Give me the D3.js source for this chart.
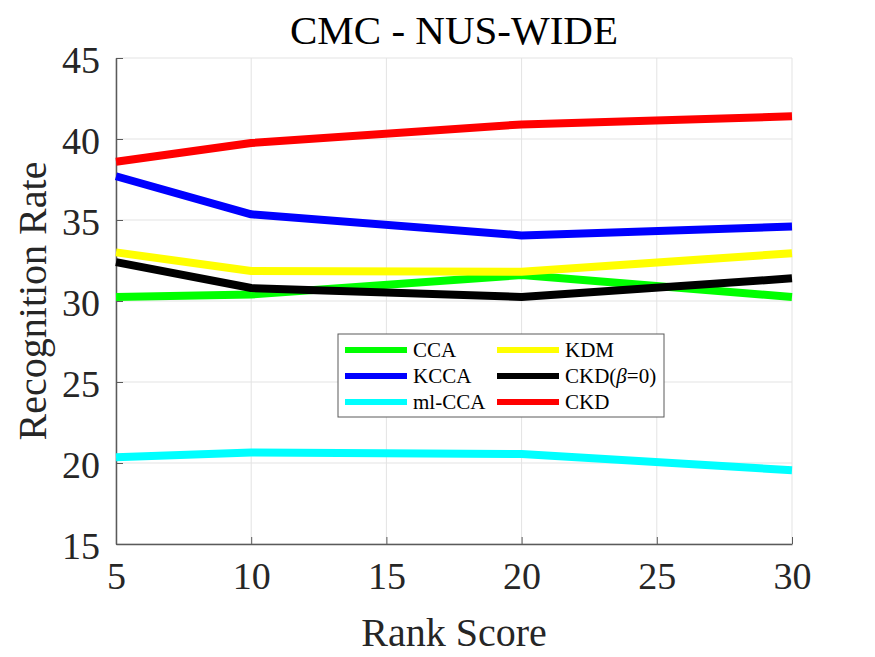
<!DOCTYPE html>
<html>
<head>
<meta charset="utf-8">
<script src="https://cdnjs.cloudflare.com/ajax/libs/d3/7.8.5/d3.min.js"></script>
<style>
  body { margin: 0; background: #fff; }
  svg text { font-family: "Liberation Serif", "Times New Roman", serif; fill: #000; }
</style>
</head>
<body>
<script>
var width = 875,
    height = 657;

// rank positions and recognition rates
var ranks = [5, 10, 20, 30];
var cca    = [30.25, 30.4, 31.6, 30.25];
var kcca   = [37.7, 35.35, 34.05, 34.6];
var mlcca  = [20.35, 20.65, 20.55, 19.55];
var kdm    = [33.0, 31.85, 31.8, 32.95];
var ckd0   = [32.4, 30.8, 30.25, 31.4];
var ckd    = [38.6, 39.75, 40.9, 41.4];

var xTicks = [5, 10, 15, 20, 25, 30];
var yTicks = [15, 20, 25, 30, 35, 40, 45];

var series = [
  { name: "CCA", values: cca, color: "#00ff00" },
  { name: "KCCA", values: kcca, color: "#0000ff" },
  { name: "ml-CCA", values: mlcca, color: "#00ffff" },
  { name: "KDM", values: kdm, color: "#ffff00" },
  { name: "CKD(β=0)", values: ckd0, color: "#000000" },
  { name: "CKD", values: ckd, color: "#ff0000" }
];

var serif = "Liberation Serif";
var margin = { left: 116, right: 83, top: 58, bottom: 113 };

var x = d3.scaleLinear().domain([5, 30]).range([margin.left, width - margin.right]);
var y = d3.scaleLinear().domain([15, 45]).range([height - margin.bottom, margin.top]);

var svg = d3.select("body").append("svg")
    .attr("width", width)
    .attr("height", height)
    .attr("font-family", serif);

/* ============================ GRID ============================ */
var grid = svg.append("g").attr("class", "grid");
grid.selectAll(".gx")
    .data(xTicks)
  .enter().append("line")
    .attr("x1", d => x(d)).attr("x2", d => x(d))
    .attr("y1", y(15)).attr("y2", y(45))
    .style("stroke", "#e3e3e3").style("stroke-width", 1);
grid.selectAll(".gy")
    .data(yTicks)
  .enter().append("line")
    .attr("x1", x(5)).attr("x2", x(30))
    .attr("y1", d => y(d)).attr("y2", d => y(d))
    .style("stroke", "#e3e3e3").style("stroke-width", 1);

/* ============================ AXES ============================ */
var xAxis = svg.append("g")
    .attr("transform", "translate(0," + y(15) + ")")
    .call(d3.axisBottom(x).tickValues(xTicks).tickSizeInner(-7).tickSizeOuter(0).tickPadding(18));
var yAxis = svg.append("g")
    .attr("transform", "translate(" + x(5) + ",0)")
    .call(d3.axisLeft(y).tickValues(yTicks).tickSizeInner(-7).tickSizeOuter(0).tickPadding(16));

[xAxis, yAxis].forEach(function(a) {
  a.attr("font-family", serif).attr("font-size", 38);
  a.select(".domain").style("stroke", "#5a5a5a").style("stroke-width", 1.5);
  a.selectAll(".tick line").style("stroke", "#5a5a5a").style("stroke-width", 1);
  a.selectAll(".tick text")
      .attr("font-family", serif)
      .style("font-family", serif)
      .style("font-size", "38px")
      .style("fill", "#262626");
});
xAxis.selectAll(".tick text").attr("dy", "0.71em").attr("y", 18);
yAxis.selectAll(".tick text").attr("dy", "0.38em").attr("x", -16);

/* ============================ LINES ============================ */
var line = d3.line()
    .x((d, i) => x(ranks[i]))
    .y(d => y(d));

svg.append("g").selectAll("path")
    .data(series)
  .enter().append("path")
    .attr("d", d => line(d.values))
    .style("fill", "none")
    .style("stroke", d => d.color)
    .style("stroke-width", 8)
    .style("stroke-linejoin", "round");

/* ============================ LEGEND ============================ */
var legend = svg.append("g").attr("transform", "translate(338,334)");
legend.append("rect")
    .attr("width", 326).attr("height", 83)
    .style("fill", "#fff").style("stroke", "#5a5a5a").style("stroke-width", 1);

var item = legend.selectAll(".item")
    .data(series)
  .enter().append("g")
    .attr("class", "item")
    .attr("transform", (d, i) => "translate(" + (i < 3 ? 7 : 159) + "," + (16 + (i % 3) * 26) + ")");
item.append("line")
    .attr("x1", 0).attr("x2", 62)
    .style("stroke", d => d.color)
    .style("stroke-width", 6);
item.append("text")
    .attr("x", 68).attr("dy", "0.35em")
    .style("font-size", "21px")
    .each(function(d) {
      var t = d3.select(this);
      if (d.name.indexOf("β") >= 0) {
        t.append("tspan").text("CKD(");
        t.append("tspan").style("font-style", "italic").text("β");
        t.append("tspan").text("=0)");
      } else {
        t.text(d.name);
      }
    });

/* ============================ LABELS ============================ */
svg.append("text")
    .attr("x", (x(5) + x(30)) / 2).attr("y", 44)
    .attr("text-anchor", "middle")
    .style("font-size", "41px")
    .text("CMC - NUS-WIDE");

svg.append("text")
    .attr("x", (x(5) + x(30)) / 2).attr("y", 646)
    .attr("text-anchor", "middle")
    .style("font-size", "40px")
    .style("fill", "#262626")
    .text("Rank Score");

svg.append("text")
    .attr("transform", "translate(46," + (y(15) + y(45)) / 2 + ") rotate(-90)")
    .attr("text-anchor", "middle")
    .style("font-size", "40px")
    .style("fill", "#262626")
    .text("Recognition Rate");
</script>
</body>
</html>
